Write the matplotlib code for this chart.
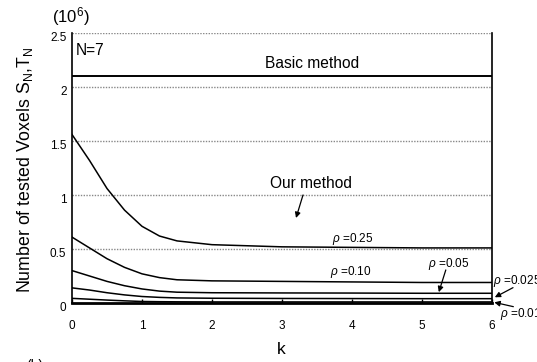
import numpy as np
import matplotlib.pyplot as plt
from matplotlib.transforms import ScaledTranslation

plt.rcParams['font.family'] = ['Liberation Sans', 'DejaVu Sans']
plt.rcParams['mathtext.fontset'] = 'custom'
plt.rcParams['mathtext.rm'] = 'Liberation Sans'
plt.rcParams['mathtext.it'] = 'Liberation Sans:italic'

# data (units of 10^6 voxels)
k = [0, 0.25, 0.5, 0.75, 1, 1.25, 1.5, 2, 3, 4, 5, 6]
basic = 2.1
rho_025 = [1.56, 1.32, 1.06, 0.86, 0.71, 0.62, 0.575, 0.54, 0.52, 0.515, 0.51, 0.51]
rho_010 = [0.61, 0.51, 0.41, 0.33, 0.27, 0.235, 0.215, 0.205, 0.2, 0.195, 0.19, 0.19]
rho_005 = [0.30, 0.25, 0.20, 0.16, 0.13, 0.11, 0.10, 0.095, 0.093, 0.092, 0.09, 0.09]
rho_0025 = [0.14, 0.12, 0.095, 0.075, 0.06, 0.052, 0.047, 0.044, 0.042, 0.041, 0.04, 0.04]
rho_001 = [0.043, 0.035, 0.027, 0.02, 0.014, 0.012, 0.011, 0.01, 0.01, 0.01, 0.01, 0.01]

fig = plt.figure(figsize=(5.37, 3.62), dpi=100)
ax = fig.add_axes([0.1341, 0.163, 0.9162 - 0.1341, 0.9088 - 0.163])

for yv in [0.5, 1.0, 1.5, 2.0, 2.5]:
    ax.axhline(yv, color='#888888', linestyle=(0, (1, 1)), linewidth=1.0, zorder=1)

ax.axhline(basic, color='black', linewidth=1.4, zorder=3)
for series in [rho_025, rho_010, rho_005, rho_0025, rho_001]:
    ax.plot(k, series, color='black', linewidth=1.1, zorder=3)

ax.set_xlim(0, 6)
ax.set_ylim(0, 2.5)
ax.set_xticks([0, 1, 2, 3, 4, 5, 6])
ax.set_yticks([0, 0.5, 1, 1.5, 2, 2.5])
ax.set_yticklabels(['0', '0.5', '1', '1.5', '2', '2.5'])
ax.tick_params(axis='x', direction='in', length=3, width=1, pad=12.5, labelsize=8.5)
ax.tick_params(axis='y', length=0, pad=4, labelsize=8.5)
shift = ScaledTranslation(0, -3.5 / 100, fig.dpi_scale_trans)
for lbl in ax.get_yticklabels():
    lbl.set_transform(lbl.get_transform() + shift)
ax.spines['top'].set_visible(False)
ax.spines['left'].set_linewidth(1.2)
ax.spines['right'].set_linewidth(1.2)
ax.spines['bottom'].set_linewidth(2.0)

fig.text(281 / 537, 1 - 349 / 362, 'k', fontsize=12.5, ha='center', va='center')
fig.text(25 / 537, 1 - 170 / 362, r'Number of tested Voxels S$_\mathrm{N}$,T$_\mathrm{N}$',
         fontsize=12.8, rotation=90, ha='center', va='center')

fig.text(71 / 537, 1 - 17 / 362, r'(10$^\mathrm{6}$)', fontsize=12, ha='center', va='center')
ax.text(0.06, 2.34, 'N=7', fontsize=11.2, ha='left', va='center')
ax.text(3.43, 2.22, 'Basic method', fontsize=11.2, ha='center', va='center')
ax.text(3.42, 1.11, 'Our method', fontsize=11.2, ha='center', va='center')

arrow = dict(arrowstyle='-|>', color='black', lw=0.9, mutation_scale=8, shrinkA=0, shrinkB=0)
ax.annotate('', xy=(3.2, 0.787), xytext=(3.3, 1.0), arrowprops=arrow)
ax.annotate('', xy=(5.24, 0.10), xytext=(5.34, 0.306), arrowprops=arrow)
ax.annotate('', xy=(6.04, 0.053), xytext=(6.3, 0.142), arrowprops=arrow, annotation_clip=False)
ax.annotate('', xy=(6.033, 0.006), xytext=(6.305, -0.034), arrowprops=arrow, annotation_clip=False)

lab = dict(fontsize=8.5, ha='left', va='center', clip_on=False)
ax.text(3.71, 0.59, r'$\it{\rho}$ =0.25', **lab)
ax.text(3.68, 0.287, r'$\it{\rho}$ =0.10', **lab)
ax.text(5.08, 0.36, r'$\it{\rho}$ =0.05', **lab)
ax.text(6.02, 0.206, r'$\it{\rho}$ =0.025', **lab)
ax.text(6.12, -0.10, r'$\it{\rho}$ =0.01', **lab)

fig.text(26 / 537, 1 - 359 / 362, '(b)', fontsize=10, ha='left', va='top')

fig.savefig('out.png', dpi=100)
